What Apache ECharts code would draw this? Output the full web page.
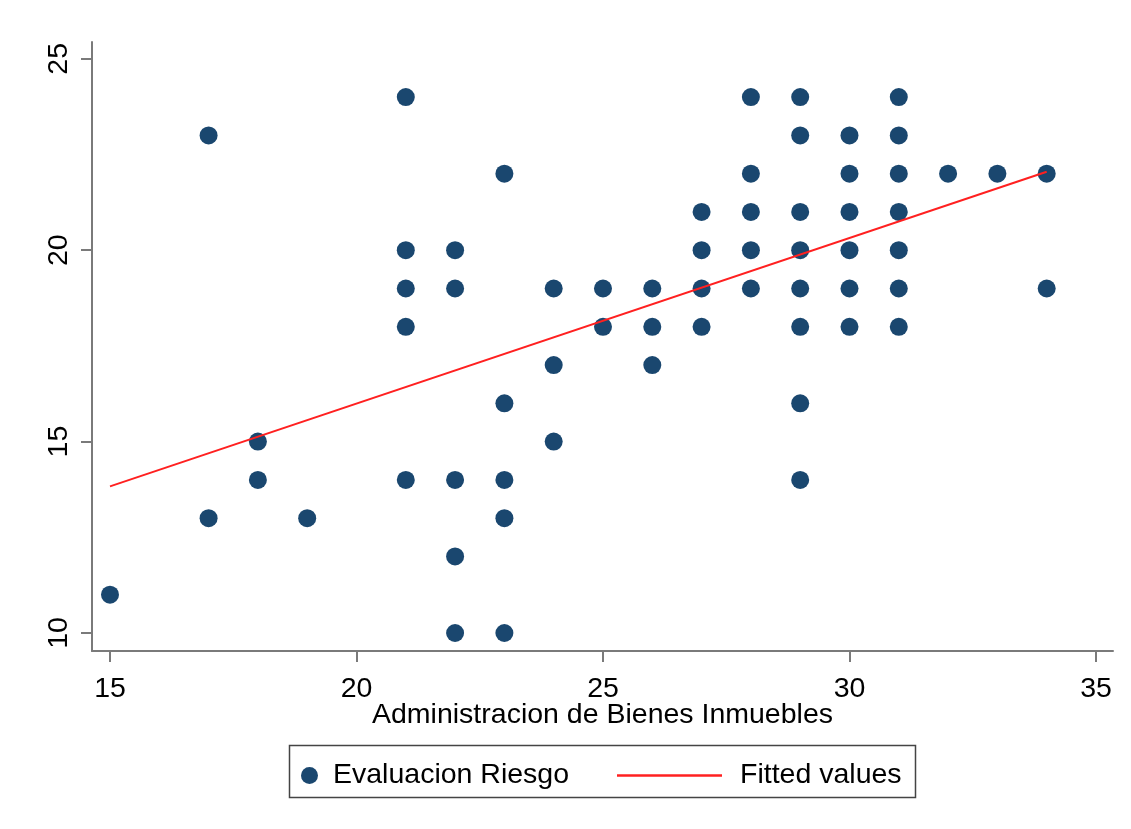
<!DOCTYPE html>
<html>
<head>
<meta charset="utf-8">
<script src="https://cdn.jsdelivr.net/npm/echarts@6/dist/echarts.min.js"></script>
<style>
  html, body { margin: 0; padding: 0; background: #ffffff; }
  #chart { width: 1131px; height: 829px; }
</style>
</head>
<body>
<div id="chart"></div>
<script>
// Observations: Administracion de Bienes Inmuebles (x) vs Evaluacion Riesgo (y)
const adminBienes = [
  15,
  17, 17,
  18, 18,
  19,
  21, 21, 21, 21, 21,
  22, 22, 22, 22, 22,
  23, 23, 23, 23, 23,
  24, 24, 24,
  25, 25,
  26, 26, 26,
  27, 27, 27, 27,
  28, 28, 28, 28, 28,
  29, 29, 29, 29, 29, 29, 29, 29,
  30, 30, 30, 30, 30, 30,
  31, 31, 31, 31, 31, 31, 31,
  32,
  33,
  34, 34
];
const evalRiesgo = [
  11,
  23, 13,
  15, 14,
  13,
  24, 20, 19, 18, 14,
  20, 19, 14, 12, 10,
  22, 16, 14, 13, 10,
  19, 17, 15,
  19, 18,
  19, 18, 17,
  21, 20, 19, 18,
  24, 22, 21, 20, 19,
  24, 23, 21, 20, 19, 18, 16, 14,
  23, 22, 21, 20, 19, 18,
  24, 23, 22, 21, 20, 19, 18,
  22,
  22,
  22, 19
];

// Linear fit endpoints
const fitX = [15, 34];
const fitY = [13.83, 22.05];

// Tick labels
const xTicks = [15, 20, 25, 30, 35];
const yTicks = [10, 15, 20, 25];

const scatterData = adminBienes.map((x, i) => [x, evalRiesgo[i]]);
const fitData = fitX.map((x, i) => [x, fitY[i]]);

const FONT = '"Liberation Sans", Arial, sans-serif';
const FS = 28.5;
const AXIS_GRAY = '#7a7a7a';
const NAVY = '#1a476f';
const RED = '#ff2020';

const chart = echarts.init(document.getElementById('chart'), null, { renderer: 'canvas' });

chart.setOption({
  backgroundColor: '#ffffff',
  animation: false,
  grid: { left: 92, right: 18, top: 42, bottom: 178, containLabel: false },
  xAxis: {
    type: 'value',
    min: 14.635,
    max: 35.345,
    name: 'Administracion de Bienes Inmuebles',
    nameLocation: 'middle',
    nameGap: 50,
    nameMoveOverlap: false,
    nameTextStyle: { fontFamily: FONT, fontSize: FS, color: '#000' },
    axisLine: { show: true, lineStyle: { color: AXIS_GRAY, width: 2 } },
    axisTick: { show: true, customValues: xTicks, length: 11, lineStyle: { color: AXIS_GRAY, width: 2 } },
    axisLabel: { customValues: xTicks, fontFamily: FONT, fontSize: FS, color: '#000', margin: 24 },
    splitLine: { show: false }
  },
  yAxis: {
    type: 'value',
    min: 9.53,
    max: 25.44,
    axisLine: { show: true, lineStyle: { color: AXIS_GRAY, width: 2 } },
    axisTick: { show: true, customValues: yTicks, length: 11, lineStyle: { color: AXIS_GRAY, width: 2 } },
    axisLabel: { customValues: yTicks, rotate: 90, fontFamily: FONT, fontSize: FS, color: '#000', margin: 18 },
    splitLine: { show: false }
  },
  legend: [
    {
      data: [{ name: 'Evaluacion Riesgo', icon: 'circle' }],
      left: 296,
      top: 756,
      itemWidth: 17,
      itemHeight: 17,
      itemGap: 0,
      textStyle: { fontFamily: FONT, fontSize: FS, color: '#000', padding: [0, 0, 0, 10] }
    },
    {
      data: [{ name: 'Fitted values', icon: 'rect', itemStyle: { color: RED } }],
      left: 612,
      top: 756,
      itemWidth: 105,
      itemHeight: 2.5,
      textStyle: { fontFamily: FONT, fontSize: FS, color: '#000', padding: [0, 0, 0, 13] }
    }
  ],
  graphic: [
    {
      type: 'rect',
      shape: { x: 289.5, y: 745.5, width: 626, height: 52 },
      style: { fill: 'none', stroke: '#444', lineWidth: 1.5 },
      silent: true
    }
  ],
  series: [
    {
      name: 'Evaluacion Riesgo',
      type: 'scatter',
      data: scatterData,
      symbol: 'circle',
      symbolSize: 18,
      itemStyle: { color: NAVY, opacity: 1 },
      z: 2
    },
    {
      name: 'Fitted values',
      type: 'line',
      data: fitData,
      symbol: 'none',
      lineStyle: { color: RED, width: 2 },
      itemStyle: { color: RED },
      z: 3
    }
  ]
});
</script>
</body>
</html>
